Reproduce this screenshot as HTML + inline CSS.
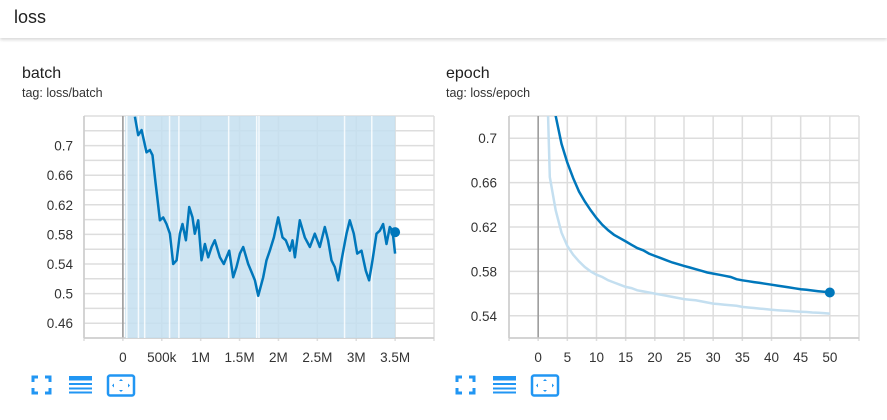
<!DOCTYPE html>
<html><head><meta charset="utf-8">
<style>
body{margin:0;width:887px;height:420px;background:#fff;font-family:"Liberation Sans",sans-serif;overflow:hidden;position:relative}
.hdr{position:absolute;left:0;top:0;width:887px;height:38px;background:#fff;box-shadow:0 2px 3px rgba(0,0,0,0.15)}
.hdr span{position:absolute;left:14px;top:7px;font-size:18px;color:#212121}
.t{position:absolute;font-size:16px;color:#212121}
.tag{position:absolute;font-size:12.5px;color:#333}
svg{position:absolute;left:0;top:0}
</style></head><body>
<div class="hdr"><span>loss</span></div>
<div class="t" style="left:22px;top:65px">batch</div>
<div class="tag" style="left:22px;top:86px">tag: loss/batch</div>
<div class="t" style="left:446px;top:65px">epoch</div>
<div class="tag" style="left:446px;top:86px">tag: loss/epoch</div>
<svg id="s" width="887" height="420"></svg>
<script>
// batch chart data
const batchSteps=[0.154,0.197,0.240,0.304,0.347,0.381,0.398,0.420,0.441,0.476,0.518,0.561,0.604,0.647,0.690,0.733,0.767,0.810,0.853,0.895,0.925,0.968,1.011,1.054,1.097,1.140,1.182,1.247,1.298,1.367,1.418,1.461,1.504,1.547,1.611,1.662,1.697,1.740,1.804,1.847,1.889,1.941,1.997,2.052,2.095,2.147,2.181,2.211,2.275,2.339,2.404,2.468,2.532,2.596,2.639,2.682,2.725,2.768,2.811,2.875,2.918,2.969,3.012,3.068,3.123,3.166,3.209,3.261,3.303,3.346,3.389,3.432,3.466,3.500];
const batchSmoothed=[0.739,0.714,0.721,0.691,0.694,0.687,0.671,0.649,0.631,0.599,0.603,0.594,0.581,0.540,0.545,0.581,0.594,0.572,0.617,0.603,0.581,0.599,0.545,0.567,0.549,0.563,0.572,0.549,0.540,0.558,0.522,0.536,0.554,0.563,0.540,0.527,0.518,0.497,0.522,0.545,0.558,0.576,0.603,0.576,0.572,0.558,0.572,0.549,0.599,0.576,0.563,0.581,0.563,0.590,0.572,0.545,0.536,0.518,0.545,0.581,0.599,0.581,0.554,0.558,0.531,0.518,0.545,0.581,0.585,0.594,0.567,0.590,0.585,0.554,0.583];
const batchRawRange=[0.03,3.5];
const batchGaps=[0.05,0.2,0.28,0.6,0.72,1.72,1.75,2.85,3.2,1.36];
const batchXTicks=[0,0.5,1,1.5,2,2.5,3,3.5];
const batchXLabels=["0","500k","1M","1.5M","2M","2.5M","3M","3.5M"];
const batchYTicks=[0.46,0.5,0.54,0.58,0.62,0.66,0.7];
// epoch chart data
const epochSteps=[1,2,3,4,5,6,7,8,9,10,11,12,13,14,15,16,17,18,19,20,21,22,23,24,25,26,27,28,29,30,31,32,33,34,35,36,37,38,39,40,41,42,43,44,45,46,47,48,49,50];
const epochRaw=[0.85,0.665,0.635,0.615,0.603,0.595,0.589,0.584,0.580,0.577,0.575,0.572,0.570,0.568,0.566,0.565,0.563,0.562,0.561,0.560,0.559,0.558,0.557,0.556,0.555,0.5545,0.554,0.553,0.552,0.551,0.5505,0.550,0.5495,0.549,0.548,0.5475,0.547,0.5465,0.546,0.5455,0.545,0.5447,0.5444,0.544,0.5437,0.5434,0.543,0.5427,0.5424,0.542];
const epochSmoothed=[0.85,0.78,0.72,0.695,0.678,0.664,0.652,0.643,0.635,0.628,0.622,0.617,0.613,0.610,0.607,0.604,0.601,0.599,0.596,0.594,0.592,0.590,0.588,0.5865,0.585,0.5835,0.582,0.5805,0.579,0.578,0.577,0.576,0.575,0.573,0.572,0.5712,0.5704,0.5696,0.5688,0.568,0.5672,0.5664,0.5656,0.5648,0.564,0.5634,0.5628,0.5622,0.5616,0.561];
const epochXTicks=[0,5,10,15,20,25,30,35,40,45,50];
const epochYTicks=[0.54,0.58,0.62,0.66,0.7];

const NS="http://www.w3.org/2000/svg";
const svg=document.getElementById('s');
function mk(tag,attrs,parent){const e=document.createElementNS(NS,tag);for(const k in attrs)e.setAttribute(k,attrs[k]);(parent||svg).appendChild(e);return e;}

function chart(id,L,R,T,B,x0,x1,y0,y1,xTicks,xLabels,yTicks,labelX){
  const sx=v=>L+(v-x0)/(x1-x0)*(R-L);
  const sy=v=>B-(v-y0)/(y1-y0)*(B-T);
  const g=mk('g',{});
  
  
  const cp=mk('clipPath',{id:id+'clip'},g);mk('rect',{x:L,y:T,width:R-L,height:B-T},cp);
  // horizontal grid every 0.02
  for(let v=Math.ceil(y0/0.02-1e-6)*0.02;v<=y1+1e-6;v+=0.02){
    const l=mk('line',{x1:L,x2:R,y1:sy(v),y2:sy(v),stroke:'#ddd','stroke-width':1.5},g);
    
    
  }
  const xs=xTicks.slice();xs.unshift(x0);xs.push(x1);
  xs.forEach(v=>{const l=mk('line',{x1:sx(v),x2:sx(v),y1:T,y2:B+3,stroke:'#ddd','stroke-width':1.5},g);
    
    });
  mk('line',{x1:sx(0),x2:sx(0),y1:T,y2:B,stroke:'#999','stroke-width':1.5},g);
  mk('line',{x1:L,x2:L,y1:T,y2:B,stroke:'#ccc','stroke-width':1.5},g);
  mk('line',{x1:L,x2:R,y1:B,y2:B,stroke:'#ccc','stroke-width':1.5},g);
  xTicks.forEach((v,i)=>{const t=mk('text',{x:sx(v),y:B+24,'text-anchor':'middle','font-size':13.5,fill:'#333'},g);t.textContent=xLabels?xLabels[i]:String(v);
    
    });
  yTicks.forEach(v=>{const t=mk('text',{x:labelX,y:sy(v)+5,'text-anchor':'end','font-size':13.5,fill:'#333'},g);t.textContent=String(v);
    
    });
  const pg=mk('g',{'clip-path':'url(#'+id+'clip)'},g);
  return {sx,sy,pg,g};
}
function path(xsArr,ysArr,sx,sy){return xsArr.map((x,i)=>(i?'L':'M')+sx(x).toFixed(1)+','+sy(ysArr[i]).toFixed(1)).join('');}

const b=chart('batch',84,434,116,338,-0.5,4.0,0.44,0.74,batchXTicks,batchXLabels,batchYTicks,73);
const band=mk('rect',{x:b.sx(batchRawRange[0]),y:116,width:b.sx(batchRawRange[1])-b.sx(batchRawRange[0]),height:222,fill:'#c4dff0','fill-opacity':0.85},b.pg);


batchGaps.forEach(v=>{mk('line',{x1:b.sx(v),x2:b.sx(v),y1:116,y2:338,stroke:'#fff','stroke-width':1.5,'stroke-opacity':0.8},b.pg);});
const bl=mk('path',{d:path(batchSteps,batchSmoothed,b.sx,b.sy),fill:'none',stroke:'#0077bb','stroke-width':2.5,'stroke-linejoin':'round'},b.pg);


const bd=mk('circle',{cx:b.sx(batchSteps[batchSteps.length-1]),cy:b.sy(batchSmoothed[batchSmoothed.length-1]),r:5,fill:'#0077bb'},b.g);



const e=chart('epoch',509,859,116,338,-5,55,0.52,0.72,epochXTicks,null,epochYTicks,497);
const er=mk('path',{d:path(epochSteps,epochRaw,e.sx,e.sy),fill:'none',stroke:'#c4dff0','stroke-width':2.5},e.pg);


const es=mk('path',{d:path(epochSteps,epochSmoothed,e.sx,e.sy),fill:'none',stroke:'#0077bb','stroke-width':2.5},e.pg);


const ed=mk('circle',{cx:e.sx(50),cy:e.sy(epochSmoothed[epochSmoothed.length-1]),r:5,fill:'#0077bb'},e.g);



function icons(x0,prefix){
  const c='#2196f3';
  const g1=mk('g',{});
  
  
  mk('path',{d:`M${x0},${382}v-5h5 M${x0+12},377h5v5 M${x0+17},388v5h-5 M${x0+5},393h-5v-5`,fill:'none',stroke:c,'stroke-width':3},g1);
  const g2=mk('g',{});
  
  
  mk('rect',{x:x0+36,y:376,width:23,height:4.5,fill:c},g2);
  [383,387.5,391.5].forEach(y=>mk('rect',{x:x0+36,y:y,width:23,height:2,fill:c},g2));
  const g3=mk('g',{});
  
  
  mk('rect',{x:x0+75,y:375.5,width:26,height:20,rx:2,fill:'none',stroke:c,'stroke-width':2.5},g3);
  mk('path',{d:`M${x0+88},379l-2,2h4z M${x0+88},392l-2,-2h4z M${x0+79},385.5l2,-2v4z M${x0+97},385.5l-2,-2v4z`,fill:c},g3);
}
icons(33,'batch');icons(457,'epoch');
</script>
</body></html>
